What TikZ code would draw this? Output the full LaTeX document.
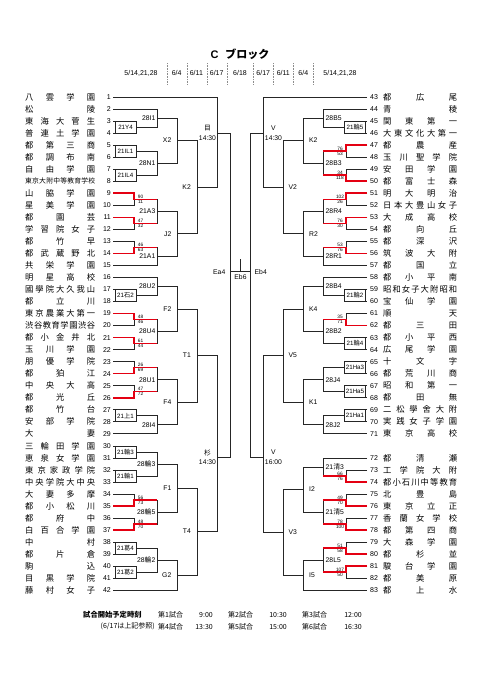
\documentclass[tikz,border=0pt]{standalone}
\usepackage{fontspec}
\setmainfont{Liberation Sans}
\newfontfamily\jp{Noto Sans CJK JP}
\usetikzlibrary{calc}
\makeatletter
\newcommand\spreadtxt[1]{\def\sp@first{1}\@tfor\sp@c:=#1\do{\ifx\sp@first\@empty\hfill\fi\sp@c\let\sp@first\@empty}}
\makeatother
\newcommand\J[1]{{\jp #1}}
\tikzset{
 br/.style={draw=black!85, line width=0.7pt},
 rd/.style={draw={rgb,255:red,228;green,0;blue,18}, line width=1.5pt, line join=miter},
 nm/.style={anchor=west, inner sep=0pt},
 num/.style={inner sep=0pt, font=\fontsize{7}{8}\selectfont},
 lbl/.style={inner sep=0pt, font=\fontsize{6.8}{7}\selectfont},
 bl/.style={inner sep=0pt, font=\fontsize{6.2}{7}\selectfont},
 sc/.style={inner sep=0pt, font=\fontsize{4.8}{5}\selectfont},
 dt/.style={inner sep=0pt, font=\fontsize{7}{8}\selectfont},
 sep/.style={draw=black!45, line width=0.4pt, dash pattern=on 1pt off 0.6pt},
 ft/.style={inner sep=0pt, font=\jp\fontsize{7}{8}\selectfont},
 tl/.style={inner sep=0pt, align=center, font=\fontsize{6.8}{9.5}\selectfont},
}
% rows
\newcommand\Lrow[3][8.3]{%
  \pgfmathsetmacro\yy{97+12.03*(#2-1)}%
  \coordinate (r#2) at (113,\yy);
  \node[nm, font=\jp\fontsize{#1}{#1}\selectfont] (n#2) at (25,\yy) {\makebox[70pt]{\spreadtxt{#3}}};
  \node[num, anchor=east] (no#2) at (111,\yy) {#2};
}
\newcommand\Rrow[3][8.3]{%
  \pgfmathsetmacro\yy{ifthenelse(#2<72, 97+12.03*(#2-43), 97+12.03*(#2-42))}%
  \coordinate (r#2) at (367,\yy);
  \node[nm, font=\jp\fontsize{#1}{#1}\selectfont] (n#2) at (383,\yy) {\makebox[74pt]{\spreadtxt{#3}}};
  \node[num, anchor=west] (no#2) at (370,\yy) {#2};
}
% matches
\newcommand\Lm[6]{%
  \draw[br] (#2) -- (#2 -| #4) -- (#3 -| #4) -- (#3);
  \coordinate (#5) at ($(#2 -| #4)!0.5!(#3 -| #4)$);
  \node[lbl, anchor=east] (#5-t) at ($(#5)+(-#6,0)$) {#1};
}
\newcommand\Rm[6]{%
  \draw[br] (#2) -- (#2 -| #4) -- (#3 -| #4) -- (#3);
  \coordinate (#5) at ($(#2 -| #4)!0.5!(#3 -| #4)$);
  \node[lbl, anchor=west] (#5-t) at ($(#5)+(#6,0)$) {#1};
}
\newcommand\Ls[5]{%
  \draw[br] (r#1) -- (r#1 -| L1s) -- (r#2 -| L1s) -- (r#2);
  \coordinate (#5) at ($(r#1 -| L1s)!0.5!(r#2 -| L1s)$);
  \node[sc, anchor=south] (#5-a) at ($(#5)+(6.5,-0.6)$) {#3};
  \node[sc, anchor=north] (#5-b) at ($(#5)+(6.5,0.6)$) {#4};
}
\newcommand\Rs[5]{%
  \draw[br] (r#1) -- (r#1 -| R1s) -- (r#2 -| R1s) -- (r#2);
  \coordinate (#5) at ($(r#1 -| R1s)!0.5!(r#2 -| R1s)$);
  \node[sc, anchor=south] (#5-a) at ($(#5)+(-6,-0.6)$) {#3};
  \node[sc, anchor=north] (#5-b) at ($(#5)+(-6,0.6)$) {#4};
}
\newcommand\Lbox[4]{%
  \draw[br] (r#1) -- (r#1 -| L1) -- (r#2 -| L1) -- (r#2);
  \draw[br] ($(r#1)+(2,0)$) -- ($(r#2)+(2,0)$);
  \coordinate (#4) at ($(r#1 -| L1)!0.5!(r#2 -| L1)$);
  \node[bl] (#4-t) at ($(r#1)!0.5!(r#2)+(12.5,0)$) {#3};
}
\newcommand\Rbox[4]{%
  \draw[br] (r#1) -- (r#1 -| R1) -- (r#2 -| R1) -- (r#2);
  \draw[br] ($(r#1)+(-2,0)$) -- ($(r#2)+(-2,0)$);
  \coordinate (#4) at ($(r#1 -| R1)!0.5!(r#2 -| R1)$);
  \node[bl] (#4-t) at ($(r#1)!0.5!(r#2)+(-12,0)$) {#3};
}
\newcommand\Lred[3]{%
  \draw[rd] (r#3) -- (r#3 -| L1s) -- ($(r#1 -| L1s)!0.5!(r#2 -| L1s)$) -- ($(r#1 -| L2)!0.5!(r#2 -| L2)$);
}
\newcommand\Rred[3]{%
  \draw[rd] (r#3) -- (r#3 -| R1s) -- ($(r#1 -| R1s)!0.5!(r#2 -| R1s)$) -- ($(r#1 -| R2)!0.5!(r#2 -| R2)$);
}
\begin{document}
\begin{tikzpicture}[x=1pt,y=-1pt]
\fill[white] (0,0) rectangle (481,680);
\useasboundingbox (0,0) rectangle (481,680);
% levels
\coordinate (L1) at (136,0); \coordinate (L1s) at (134,0); \coordinate (L2) at (157,0);
\coordinate (L3) at (177,0); \coordinate (L4) at (197,0); \coordinate (L5) at (217,0);
\coordinate (L6) at (230,0);
\coordinate (R1) at (344,0); \coordinate (R1s) at (346,0); \coordinate (R2) at (323,0);
\coordinate (R3) at (303,0); \coordinate (R4) at (283,0); \coordinate (R5) at (263,0);
\coordinate (R6) at (250,0);
% header
\node[inner sep=0pt, font=\bfseries\fontsize{11}{12}\selectfont] (title) at (240,54) {C\hspace{7pt}{\jp\bfseries ブロック}};
\foreach \x in {166.7,186.7,206.7,226.7,253.3,273.3,293.3,313.3} \draw[sep] (\x,63) -- (\x,85);
\node[dt] (d1) at (141,73.3) {5/14,21,28};
\node[dt] (d2) at (176.7,73.3) {6/4};
\node[dt] (d3) at (196.4,73.3) {6/11};
\node[dt] (d4) at (216.7,73.3) {6/17};
\node[dt] (d5) at (240,73.3) {6/18};
\node[dt] (d6) at (263.3,73.3) {6/17};
\node[dt] (d7) at (283.3,73.3) {6/11};
\node[dt] (d8) at (303.3,73.3) {6/4};
\node[dt] (d9) at (340,73.3) {5/14,21,28};
% left rows
\Lrow{1}{八雲学園}
\Lrow{2}{松陵}
\Lrow{3}{東海大菅生}
\Lrow{4}{普連土学園}
\Lrow{5}{都第三商}
\Lrow{6}{都調布南}
\Lrow{7}{自由学園}
\Lrow[6.8]{8}{東京大附中等教育学校}
\Lrow{9}{山脇学園}
\Lrow{10}{星美学園}
\Lrow{11}{都園芸}
\Lrow{12}{学習院女子}
\Lrow{13}{都竹早}
\Lrow{14}{都武蔵野北}
\Lrow{15}{共栄学園}
\Lrow{16}{明星高校}
\Lrow{17}{國學院大久我山}
\Lrow{18}{都立川}
\Lrow{19}{東京農業大第一}
\Lrow{20}{渋谷教育学園渋谷}
\Lrow{21}{都小金井北}
\Lrow{22}{玉川学園}
\Lrow{23}{朋優学院}
\Lrow{24}{都狛江}
\Lrow{25}{中央大高}
\Lrow{26}{都光丘}
\Lrow{27}{都竹台}
\Lrow{28}{安部学院}
\Lrow{29}{大妻}
\Lrow{30}{三輪田学園}
\Lrow{31}{恵泉女学園}
\Lrow{32}{東京家政学院}
\Lrow{33}{中央学院大中央}
\Lrow{34}{大妻多摩}
\Lrow{35}{都小松川}
\Lrow{36}{都府中}
\Lrow{37}{白百合学園}
\Lrow{38}{中村}
\Lrow{39}{都片倉}
\Lrow{40}{駒込}
\Lrow{41}{目黒学院}
\Lrow{42}{藤村女子}
% right rows
\Rrow{43}{都広尾}
\Rrow{44}{青稜}
\Rrow{45}{関東第一}
\Rrow{46}{大東文化大第一}
\Rrow{47}{都農産}
\Rrow{48}{玉川聖学院}
\Rrow{49}{安田学園}
\Rrow{50}{都富士森}
\Rrow{51}{明大明治}
\Rrow{52}{日本大豊山女子}
\Rrow{53}{大成高校}
\Rrow{54}{都向丘}
\Rrow{55}{都深沢}
\Rrow{56}{筑波大附}
\Rrow{57}{都国立}
\Rrow{58}{都小平南}
\Rrow{59}{昭和女子大附昭和}
\Rrow{60}{宝仙学園}
\Rrow{61}{順天}
\Rrow{62}{都三田}
\Rrow{63}{都小平西}
\Rrow{64}{広尾学園}
\Rrow{65}{十文字}
\Rrow{66}{都荒川商}
\Rrow{67}{昭和第一}
\Rrow{68}{都田無}
\Rrow{69}{二松學舍大附}
\Rrow{70}{実践女子学園}
\Rrow{71}{東京高校}
\Rrow{72}{都清瀬}
\Rrow{73}{工学院大附}
\Rrow{74}{都小石川中等教育}
\Rrow{75}{北豊島}
\Rrow{76}{東京立正}
\Rrow{77}{香蘭女学校}
\Rrow{78}{都第四商}
\Rrow{79}{大森学園}
\Rrow{80}{都杉並}
\Rrow{81}{駿台学園}
\Rrow{82}{都美原}
\Rrow{83}{都上水}
% left first round
\Lbox{3}{4}{21Y4}{b34}
\Lbox{5}{6}{21IL1}{b56}
\Lbox{7}{8}{21IL4}{b78}
\Ls{9}{10}{90}{11}{s910}
\Ls{11}{12}{47}{32}{s1112}
\Ls{13}{14}{46}{63}{s1314}
\Lbox{17}{18}{21\J{石}2}{b1718}
\Ls{19}{20}{48}{46}{s1920}
\Ls{21}{22}{61}{44}{s2122}
\Ls{23}{24}{26}{69}{s2324}
\Ls{25}{26}{47}{72}{s2526}
\Lbox{27}{28}{21\J{上}1}{b2728}
\Lbox{30}{31}{21\J{輪}3}{b3031}
\Lbox{32}{33}{21\J{輪}1}{b3233}
\Ls{34}{35}{56}{73}{s3435}
\Ls{36}{37}{48}{70}{s3637}
\Lbox{38}{39}{21\J{葛}4}{b3839}
\Lbox{40}{41}{21\J{葛}2}{b4041}
% left L2
\Lm{28I1}{r2}{b34}{L2}{m1}{1.5}
\Lm{28N1}{b56}{b78}{L2}{m2}{1.5}
\Lm{21A3}{s910}{s1112}{L2}{m3}{1.5}
\Lm{21A1}{s1314}{r15}{L2}{m4}{1.5}
\Lm{28U2}{r16}{b1718}{L2}{m5}{1.5}
\Lm{28U4}{s1920}{s2122}{L2}{m6}{1.5}
\Lm{28U1}{s2324}{s2526}{L2}{m7}{1.5}
\Lm{28I4}{b2728}{r29}{L2}{m8}{1.5}
\Lm{28\J{輪}3}{b3031}{b3233}{L2}{m9}{1.5}
\Lm{28\J{輪}5}{s3435}{s3637}{L2}{m10}{1.5}
\Lm{28\J{輪}2}{b3839}{b4041}{L2}{m11}{1.5}
% left L3
\Lm{X2}{m1}{m2}{L3}{lx2}{5.5}
\Lm{J2}{m3}{m4}{L3}{lj2}{5.5}
\Lm{F2}{m5}{m6}{L3}{lf2}{5.5}
\Lm{F4}{m7}{m8}{L3}{lf4}{5.5}
\Lm{F1}{m9}{m10}{L3}{lf1}{5.5}
\Lm{G2}{m11}{r42}{L3}{lg2}{5.5}
% left L4
\Lm{K2}{lx2}{lj2}{L4}{lk2}{6}
\Lm{T1}{lf2}{lf4}{L4}{lt1}{6}
\Lm{T4}{lf1}{lg2}{L4}{lt4}{6}
% left L5
\coordinate (me) at (217,133);
\coordinate (sugi) at (217,457);
\draw[br] (r1) -- (r1 -| L5) -- (lk2 -| L5) -- (lk2);
\draw[br] (lt1) -- (lt1 -| L5) -- (lt4 -| L5) -- (lt4);
\node[tl] (me-t) at (207.5,133) {\J{目}\\14:30};
\node[tl] (sugi-t) at (207.5,457) {\J{杉}\\14:30};
\draw[br] (me) -- (me -| L6) -- (sugi -| L6) -- (sugi);
% right first round
\Rbox{45}{46}{21\J{輪}5}{rb4546}
\Rs{47}{48}{76}{53}{rs4748}
\Rs{49}{50}{34}{118}{rs4950}
\Rs{51}{52}{102}{26}{rs5152}
\Rs{53}{54}{76}{30}{rs5354}
\Rs{55}{56}{53}{76}{rs5556}
\Rbox{59}{60}{21\J{輪}2}{rb5960}
\Rs{61}{62}{35}{71}{rs6162}
\Rbox{63}{64}{21\J{輪}4}{rb6364}
\Rbox{65}{66}{21Ha3}{rb6566}
\Rbox{67}{68}{21Ha5}{rb6768}
\Rbox{69}{70}{21Ha1}{rb6970}
\Rs{73}{74}{66}{76}{rs7374}
\Rs{75}{76}{49}{70}{rs7576}
\Rs{77}{78}{78}{100}{rs7778}
\Rs{79}{80}{51}{58}{rs7980}
\Rs{81}{82}{107}{50}{rs8182}
% right R2
\Rm{28B5}{r44}{rb4546}{R2}{rm1}{2.5}
\Rm{28B3}{rs4748}{rs4950}{R2}{rm2}{2.5}
\Rm{28R4}{rs5152}{rs5354}{R2}{rm3}{2.5}
\Rm{28R1}{rs5556}{r57}{R2}{rm4}{2.5}
\Rm{28B4}{r58}{rb5960}{R2}{rm5}{2.5}
\Rm{28B2}{rs6162}{rb6364}{R2}{rm6}{2.5}
\Rm{28J4}{rb6566}{rb6768}{R2}{rm7}{2.5}
\Rm{28J2}{rb6970}{r71}{R2}{rm8}{2.5}
\Rm{21\J{清}3}{r72}{rs7374}{R2}{rm9}{2.5}
\Rm{21\J{清}5}{rs7576}{rs7778}{R2}{rm10}{2.5}
\Rm{28L5}{rs7980}{rs8182}{R2}{rm11}{2.5}
% right R3
\Rm{K2}{rm1}{rm2}{R3}{rk2}{6}
\Rm{R2}{rm3}{rm4}{R3}{rr2}{6}
\Rm{K4}{rm5}{rm6}{R3}{rk4}{6}
\Rm{K1}{rm7}{rm8}{R3}{rk1}{6}
\Rm{I2}{rm9}{rm10}{R3}{ri2}{6}
\Rm{I5}{rm11}{r83}{R3}{ri5}{6}
% right R4
\Rm{V2}{rk2}{rr2}{R4}{rv2}{5.5}
\Rm{V5}{rk4}{rk1}{R4}{rv5}{5.5}
\Rm{V3}{ri2}{ri5}{R4}{rv3}{5.5}
% right R5
\coordinate (vt) at (263,133);
\coordinate (vb) at (263,457);
\draw[br] (r43) -- (r43 -| R5) -- (rv2 -| R5) -- (rv2);
\draw[br] (rv5) -- (rv5 -| R5) -- (rv3 -| R5) -- (rv3);
\node[tl] (vt-t) at (273.5,133) {V\\14:30};
\node[tl] (vb-t) at (273.5,457) {V\\16:00};
\draw[br] (vt) -- (vt -| R6) -- (vb -| R6) -- (vb);
% final
\coordinate (fa) at (230,271.7);
\coordinate (fb) at (250,271.7);
\coordinate (fc) at (240,271.7);
\coordinate (fs) at (240,259);
\draw[br] (fa) -- (fb);
\draw[br] (fc) -- (fs);
\node[lbl, anchor=east] (ea4) at (225.5,271.7) {Ea4};
\node[lbl, anchor=west] (eb4) at (254.5,271.7) {Eb4};
\node[lbl, anchor=north] (eb6) at (240.5,274.5) {Eb6};
% red winners
\Lred{9}{10}{9}
\Lred{11}{12}{11}
\Lred{13}{14}{14}
\Lred{19}{20}{19}
\Lred{21}{22}{21}
\Lred{23}{24}{24}
\Lred{25}{26}{26}
\Lred{34}{35}{35}
\Lred{36}{37}{37}
\Rred{47}{48}{47}
\Rred{49}{50}{50}
\Rred{51}{52}{51}
\Rred{53}{54}{53}
\Rred{55}{56}{56}
\Rred{61}{62}{62}
\Rred{73}{74}{74}
\Rred{75}{76}{76}
\Rred{77}{78}{78}
\Rred{79}{80}{80}
\Rred{81}{82}{81}
% footer
\node[ft, anchor=west, font=\jp\bfseries\fontsize{7.3}{8}\selectfont] (f0) at (83,615) {試合開始予定時刻};
\node[ft, anchor=west] (f1) at (158,615) {第1試合};
\node[ft, anchor=east] (f1t) at (213,615) {9:00};
\node[ft, anchor=west] (f2) at (228,615) {第2試合};
\node[ft, anchor=east] (f2t) at (287,615) {10:30};
\node[ft, anchor=west] (f3) at (302,615) {第3試合};
\node[ft, anchor=east] (f3t) at (362,615) {12:00};
\node[ft, anchor=east] (f00) at (155,626.5) {(6/17は上記参照)};
\node[ft, anchor=west] (f4) at (158,626.5) {第4試合};
\node[ft, anchor=east] (f4t) at (213,626.5) {13:30};
\node[ft, anchor=west] (f5) at (228,626.5) {第5試合};
\node[ft, anchor=east] (f5t) at (287,626.5) {15:00};
\node[ft, anchor=west] (f6) at (302,626.5) {第6試合};
\node[ft, anchor=east] (f6t) at (362,626.5) {16:30};
\end{tikzpicture}
\end{document}
